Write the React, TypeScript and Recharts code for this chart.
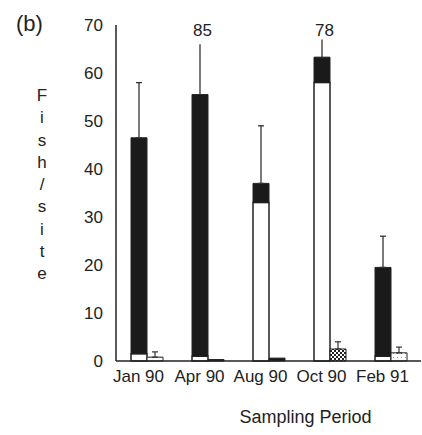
import React from 'react';
import { BarChart, Bar, XAxis, YAxis, ErrorBar, Cell, ReferenceDot, Label } from 'recharts';

const categories = ['Jan 90', 'Apr 90', 'Aug 90', 'Oct 90', 'Feb 91'];
const whiteVals = [1.5, 1, 33, 58, 1];
const blackVals = [45, 54.5, 4, 5.3, 18.5];
// drawn top of error bar (Apr and Oct truncated at the top; true values given by breakLabels)
const errTops = [58, 66, 49, 67, 26];
const errHasCap = [true, false, true, false, true];
const breakLabels = ['', '85', '', '78', ''];
const secondVals = [0.8, 0.3, 0.6, 2.5, 1.7];
const secondErrTops = [1.9, 0, 0, 4, 2.9];
const secondFills = ['url(#dotsLight)', '#1a1a1a', '#1a1a1a', 'url(#checker)', 'url(#dotsLight)'];
const yTicks = [0, 10, 20, 30, 40, 50, 60, 70];

const data = categories.map((cat, i) => {
  const top = whiteVals[i] + blackVals[i];
  const e = errTops[i] - top;
  return {
    cat,
    white: whiteVals[i],
    black: blackVals[i],
    errCap: errHasCap[i] ? [0, e] : 0,
    errNoCap: errHasCap[i] ? 0 : [0, e],
    second: secondVals[i],
    secondErr: secondErrTops[i] > 0 ? [0, secondErrTops[i] - secondVals[i]] : 0,
  };
});

const FONT = '"Liberation Sans", Arial, sans-serif';
const TXT = '#222';

const XTick = (props: any) => {
  const { x, y, payload } = props;
  return (
    <text x={x - 8} y={y} dy={13} textAnchor="middle" fontSize={17} fill={TXT} fontFamily={FONT}>
      {payload.value}
    </text>
  );
};

export default function App() {
  return (
    <div style={{ position: 'absolute', left: 0, top: 0, width: 422, height: 435, background: '#fff', fontFamily: FONT }}>
      <svg width={0} height={0} style={{ position: 'absolute' }}>
        <defs>
          <pattern id="checker" width="4" height="4" patternUnits="userSpaceOnUse">
            <rect width="4" height="4" fill="#fff" />
            <rect x="0" y="0" width="2" height="2" fill="#222" />
            <rect x="2" y="2" width="2" height="2" fill="#222" />
          </pattern>
          <pattern id="dotsLight" width="4" height="4" patternUnits="userSpaceOnUse">
            <rect width="4" height="4" fill="#fff" />
            <rect x="1" y="1" width="1" height="1" fill="#999" />
          </pattern>
        </defs>
      </svg>
      <div style={{ position: 'absolute', left: 16, top: 11, fontSize: 22, color: TXT }}>(b)</div>
      <div style={{ position: 'absolute', left: 32, top: 85, width: 20, fontSize: 17, color: TXT, textAlign: 'center', lineHeight: '22.3px' }}>
        {'Fish/site'.split('').map((ch, i) => (
          <div key={i}>{ch}</div>
        ))}
      </div>
      <BarChart
        width={422}
        height={435}
        data={data}
        margin={{ top: 25, right: 1, bottom: 14, left: 0 }}
        barSize={16}
        barGap={0}
      >
        <XAxis
          dataKey="cat"
          tickLine={false}
          tickSize={0}
          tickMargin={8}
          height={60}
          tick={<XTick />}
          axisLine={{ stroke: '#222', strokeWidth: 1.5 }}
          interval={0}
        >
          <Label value="Sampling Period" position="insideBottom" offset={-2} dx={37} style={{ fontSize: 18, fill: TXT, fontFamily: FONT }} />
        </XAxis>
        <YAxis
          domain={[0, 70]}
          ticks={yTicks}
          width={116}
          tickLine={false}
          tickSize={0}
          tickMargin={13}
          axisLine={{ stroke: '#222', strokeWidth: 1.5 }}
          tick={{ fontSize: 17, fill: TXT, fontFamily: FONT }}
          interval={0}
        />
        <Bar dataKey="white" stackId="a" fill="#fff" stroke="#222" strokeWidth={1.5} isAnimationActive={false} />
        <Bar dataKey="black" stackId="a" fill="#1a1a1a" stroke="#222" strokeWidth={1} isAnimationActive={false}>
          <ErrorBar dataKey="errCap" direction="y" width={3} stroke="#333" strokeWidth={1.3} isAnimationActive={false} />
          <ErrorBar dataKey="errNoCap" direction="y" width={0} stroke="#333" strokeWidth={1.3} isAnimationActive={false} />
        </Bar>
        <Bar dataKey="second" stroke="#222" strokeWidth={1} isAnimationActive={false}>
          {data.map((d, i) => (
            <Cell key={i} fill={secondFills[i]} />
          ))}
          <ErrorBar dataKey="secondErr" direction="y" width={3} stroke="#333" strokeWidth={1.2} isAnimationActive={false} />
        </Bar>
        {categories.map((c, i) =>
          breakLabels[i] ? (
            <ReferenceDot key={c} x={c} y={69} r={0} ifOverflow="visible" fill="none" stroke="none">
              <Label value={breakLabels[i]} position="center" dx={-5} style={{ fontSize: 17, fill: TXT, fontFamily: FONT }} />
            </ReferenceDot>
          ) : null
        )}
      </BarChart>
    </div>
  );
}
